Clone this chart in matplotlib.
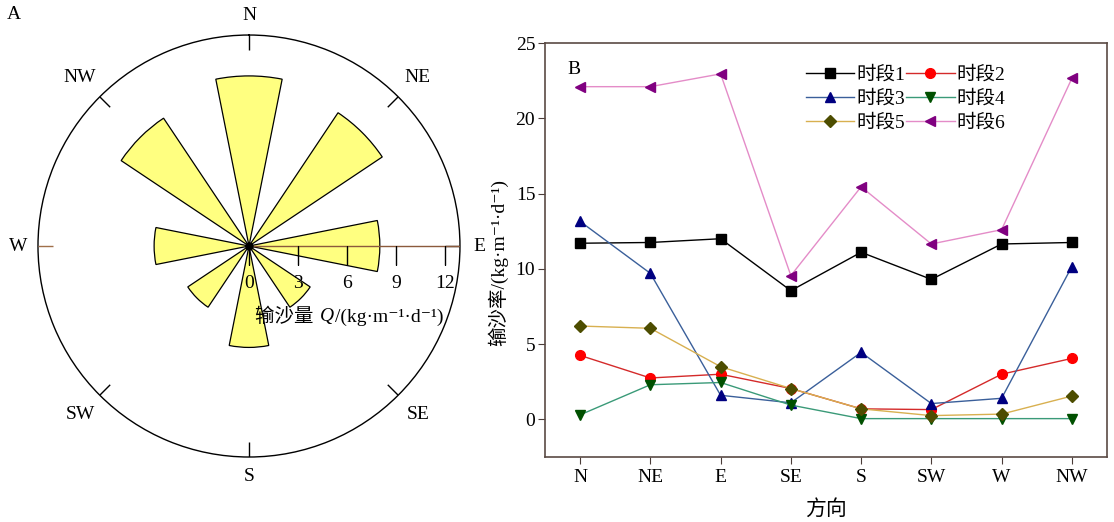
import matplotlib
matplotlib.use("Agg")
import matplotlib.pyplot as plt
import numpy as np

plt.rcParams['font.family'] = ['Liberation Serif', 'Noto Sans CJK SC', 'DejaVu Serif']

# rose (panel A)
rose_dirs = ['N', 'NE', 'E', 'SE', 'S', 'SW', 'W', 'NW']
rose_q = [10.4, 9.8, 8.0, 4.5, 6.2, 4.5, 5.8, 9.4]
rose_ticks = [0, 3, 6, 9, 12]

# lines (panel B)
cats = ['N', 'NE', 'E', 'SE', 'S', 'SW', 'W', 'NW']
p1 = [11.7, 11.75, 12.0, 8.55, 11.1, 9.3, 11.65, 11.75]
p2 = [4.25, 2.75, 3.0, 2.05, 0.7, 0.65, 3.0, 4.05]
p3 = [13.15, 9.7, 1.6, 1.1, 4.45, 1.05, 1.4, 10.15]
p4 = [0.3, 2.3, 2.45, 0.95, 0.05, 0.05, 0.05, 0.05]
p5 = [6.2, 6.05, 3.5, 2.05, 0.7, 0.25, 0.35, 1.55]
p6 = [22.1, 22.1, 22.95, 9.55, 15.45, 11.65, 12.6, 22.65]
labels = ['时段1', '时段2', '时段3', '时段4', '时段5', '时段6']

fig = plt.figure(figsize=(11.14, 5.22), dpi=100)

# ---------- A: rose ----------
rmax = 12.9
ax = fig.add_axes([0.0341, 0.1245, 0.3788, 0.8084], projection='polar')
ax.set_theta_zero_location('N')
ax.set_theta_direction(-1)
th = np.deg2rad(np.arange(8) * 45)
ax.bar(th, rose_q, width=np.deg2rad(22.5), color='#ffff80',
       edgecolor='black', linewidth=0.9, zorder=2)
ax.set_ylim(0, rmax)
ax.grid(False)
ax.set_yticks([])
ax.set_xticks([])
ax.spines['polar'].set_linewidth(1.0)

for i, t in enumerate(th):
    c = '#a0704a' if rose_dirs[i] == 'W' else 'black'
    ax.plot([t, t], [rmax - 0.9, rmax - 0.02], color=c, lw=1.0, zorder=3,
            solid_capstyle='butt')
    r = 14.1 if i % 2 == 0 else 14.6
    ax.text(t, r, rose_dirs[i], ha='center', va='center', fontsize=14,
            clip_on=False)

# radial scale along E
tE = np.deg2rad(90)
ax.plot([tE, tE], [0, rmax], color='#8b5a3c', lw=1.0, zorder=3)
for v in rose_ticks:
    ax.plot(tE, v, marker=3, markersize=14, color='black', mew=1.0, zorder=4)
    ax.annotate(str(v), (tE, v), xytext=(0, -27), textcoords='offset points',
                ha='center', va='center', fontsize=14)
ax.plot(0, 0, 'o', color='black', markersize=5, zorder=5)
ax.annotate('输沙量 ', (tE, 4.75), xytext=(-6, -51), textcoords='offset points',
            ha='right', va='center', fontsize=14)
ax.annotate('Q', (tE, 4.75), xytext=(0, -51), textcoords='offset points',
            ha='center', va='center', fontsize=14, style='italic')
ax.annotate('/(kg·m⁻¹·d⁻¹)', (tE, 4.75), xytext=(6, -51), textcoords='offset points',
            ha='left', va='center', fontsize=14)

fig.text(0.006, 0.973, 'A', fontsize=14, ha='left', va='center')

# ---------- B: lines ----------
bx = fig.add_axes([0.4892, 0.1245, 0.5045, 0.7931])
x = np.arange(len(cats))
styles = [
    (p1, 'black', 'black', 's'),
    (p2, '#d42a2a', '#ff0000', 'o'),
    (p3, '#3a5f9a', '#000080', '^'),
    (p4, '#3a9a78', '#005000', 'v'),
    (p5, '#d8b050', '#4d4d00', 'D'),
    (p6, '#e48cc8', '#800080', '<'),
]
lines = []
for (vals, lc, mc, mk), lab in zip(styles, labels):
    ms = 6 if mk == 'D' else 7
    ln, = bx.plot(x, vals, color=lc, lw=1.0, marker=mk, markersize=ms,
                  markerfacecolor=mc, markeredgecolor=mc, label=lab)
    lines.append(ln)

bx.set_xlim(-0.5, 7.5)
bx.set_ylim(-2.5, 25)
bx.set_xticks(x)
bx.set_xticklabels(cats)
bx.set_yticks([0, 5, 10, 15, 20, 25])
bx.tick_params(labelsize=14, direction='out', length=5, color='#4a3c38')
bx.tick_params(axis='y', pad=2)
for s in bx.spines.values():
    s.set_color('#5a4a44')
    s.set_linewidth(1.2)
bx.set_ylabel('输沙率/(kg·m⁻¹·d⁻¹)', fontsize=14)
bx.yaxis.set_label_coords(-0.066, 0.47)
bx.set_xlabel('方向', fontsize=15, labelpad=10)
bx.text(0.04, 0.935, 'B', transform=bx.transAxes, fontsize=14,
        ha='left', va='center')
# row-wise order: 1 2 / 3 4 / 5 6
order = [0, 2, 4, 1, 3, 5]
bx.legend([lines[i] for i in order], [labels[i] for i in order],
          ncol=2, frameon=False, loc='upper left', bbox_to_anchor=(0.45, 0.962),
          fontsize=14, handlelength=2.5, handletextpad=0.1, columnspacing=0.05,
          labelspacing=0.32, borderaxespad=0)

fig.savefig('out.png', dpi=100)
